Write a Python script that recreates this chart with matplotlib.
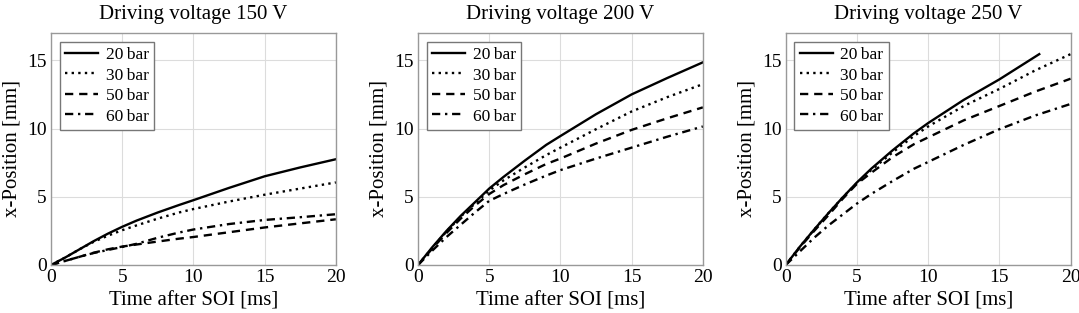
import matplotlib
matplotlib.use("Agg")
import matplotlib.pyplot as plt

plt.rcParams['font.family'] = ['Liberation Serif', 'DejaVu Serif']

# Time samples [ms]
t = [0, 1, 2, 3, 4, 5, 6, 7.5, 9, 10, 12.5, 15, 17.5, 20]
t_250_20 = [0, 1, 2, 3, 4, 5, 6, 7.5, 9, 10, 12.5, 15, 17.8]

labels = ["20\u2009bar", "30\u2009bar", "50\u2009bar", "60\u2009bar"]
voltages = ["150", "200", "250"]

# 150 V
v150_20 = [0, 0.55, 1.15, 1.75, 2.3, 2.8, 3.25, 3.85, 4.4, 4.75, 5.65, 6.5, 7.15, 7.75]
v150_30 = [0, 0.55, 1.15, 1.7, 2.15, 2.55, 2.9, 3.4, 3.85, 4.1, 4.65, 5.15, 5.6, 6.05]
v150_50 = [0, 0.3, 0.6, 0.9, 1.15, 1.35, 1.5, 1.72, 1.93, 2.05, 2.4, 2.75, 3.05, 3.35]
v150_60 = [0, 0.3, 0.6, 0.88, 1.1, 1.32, 1.55, 2.0, 2.38, 2.6, 3.0, 3.3, 3.5, 3.72]

# 200 V
v200_20 = [0, 1.3, 2.5, 3.6, 4.6, 5.6, 6.45, 7.65, 8.8, 9.45, 11.05, 12.5, 13.7, 14.85]
v200_30 = [0, 1.25, 2.45, 3.55, 4.5, 5.45, 6.2, 7.15, 8.05, 8.6, 9.95, 11.25, 12.3, 13.25]
v200_50 = [0, 1.2, 2.35, 3.4, 4.35, 5.2, 5.85, 6.65, 7.4, 7.8, 8.9, 9.9, 10.75, 11.55]
v200_60 = [0, 1.05, 2.05, 2.95, 3.85, 4.7, 5.2, 5.9, 6.55, 6.95, 7.8, 8.6, 9.4, 10.15]

# 250 V
v250_20 = [0, 1.35, 2.6, 3.8, 4.95, 6.05, 7.05, 8.4, 9.65, 10.4, 12.1, 13.6, 15.45]
v250_30 = [0, 1.35, 2.6, 3.8, 4.95, 6.0, 6.95, 8.25, 9.45, 10.15, 11.65, 12.9, 14.25, 15.45]
v250_50 = [0, 1.3, 2.5, 3.65, 4.85, 5.95, 6.75, 7.9, 8.85, 9.35, 10.6, 11.65, 12.7, 13.65]
v250_60 = [0, 1.0, 2.0, 2.9, 3.7, 4.5, 5.2, 6.15, 7.05, 7.55, 8.8, 9.95, 10.95, 11.8]

panels = [
    [(t, v150_20), (t, v150_30), (t, v150_50), (t, v150_60)],
    [(t, v200_20), (t, v200_30), (t, v200_50), (t, v200_60)],
    [(t_250_20, v250_20), (t, v250_30), (t, v250_50), (t, v250_60)],
]

styles = ["-", (0, (1, 1.8)), (0, (3.5, 2.5)), (0, (3.5, 2, 1, 2))]

fig = plt.figure(figsize=(10.79, 3.13), dpi=100)
lefts = [0.0473, 0.3874, 0.7282]

for i, (volt, series) in enumerate(zip(voltages, panels)):
    ax = fig.add_axes([lefts[i], 0.1534, 0.2640, 0.7412])
    for (x, y), ls, lab in zip(series, styles, labels):
        ax.plot(x, y, color="black", linestyle=ls, linewidth=1.7, label=lab)
    ax.set_xlim(0, 20)
    ax.set_ylim(0, 17)
    ax.set_xticks([0, 5, 10, 15, 20])
    ax.set_yticks([0, 5, 10, 15])
    ax.grid(True, color="#dcdcdc", linewidth=0.8)
    ax.set_axisbelow(True)
    ax.tick_params(length=0, labelsize=14, pad=3)
    for s in ax.spines.values():
        s.set_color("#999999")
        s.set_linewidth(1.0)
    ax.set_title(f"Driving voltage {volt} V", fontsize=15, pad=10)
    ax.set_xlabel("Time after SOI [ms]", fontsize=15, labelpad=4)
    ax.set_ylabel("x-Position [mm]", fontsize=15, labelpad=4)
    leg = ax.legend(loc="upper left", fontsize=12.5, fancybox=False, framealpha=1,
                    edgecolor="#777777", handlelength=1.9, handletextpad=0.45,
                    labelspacing=0.25, borderpad=0.3, borderaxespad=0.5)
    leg.get_frame().set_linewidth(1.0)

fig.savefig("out.png", dpi=100)
